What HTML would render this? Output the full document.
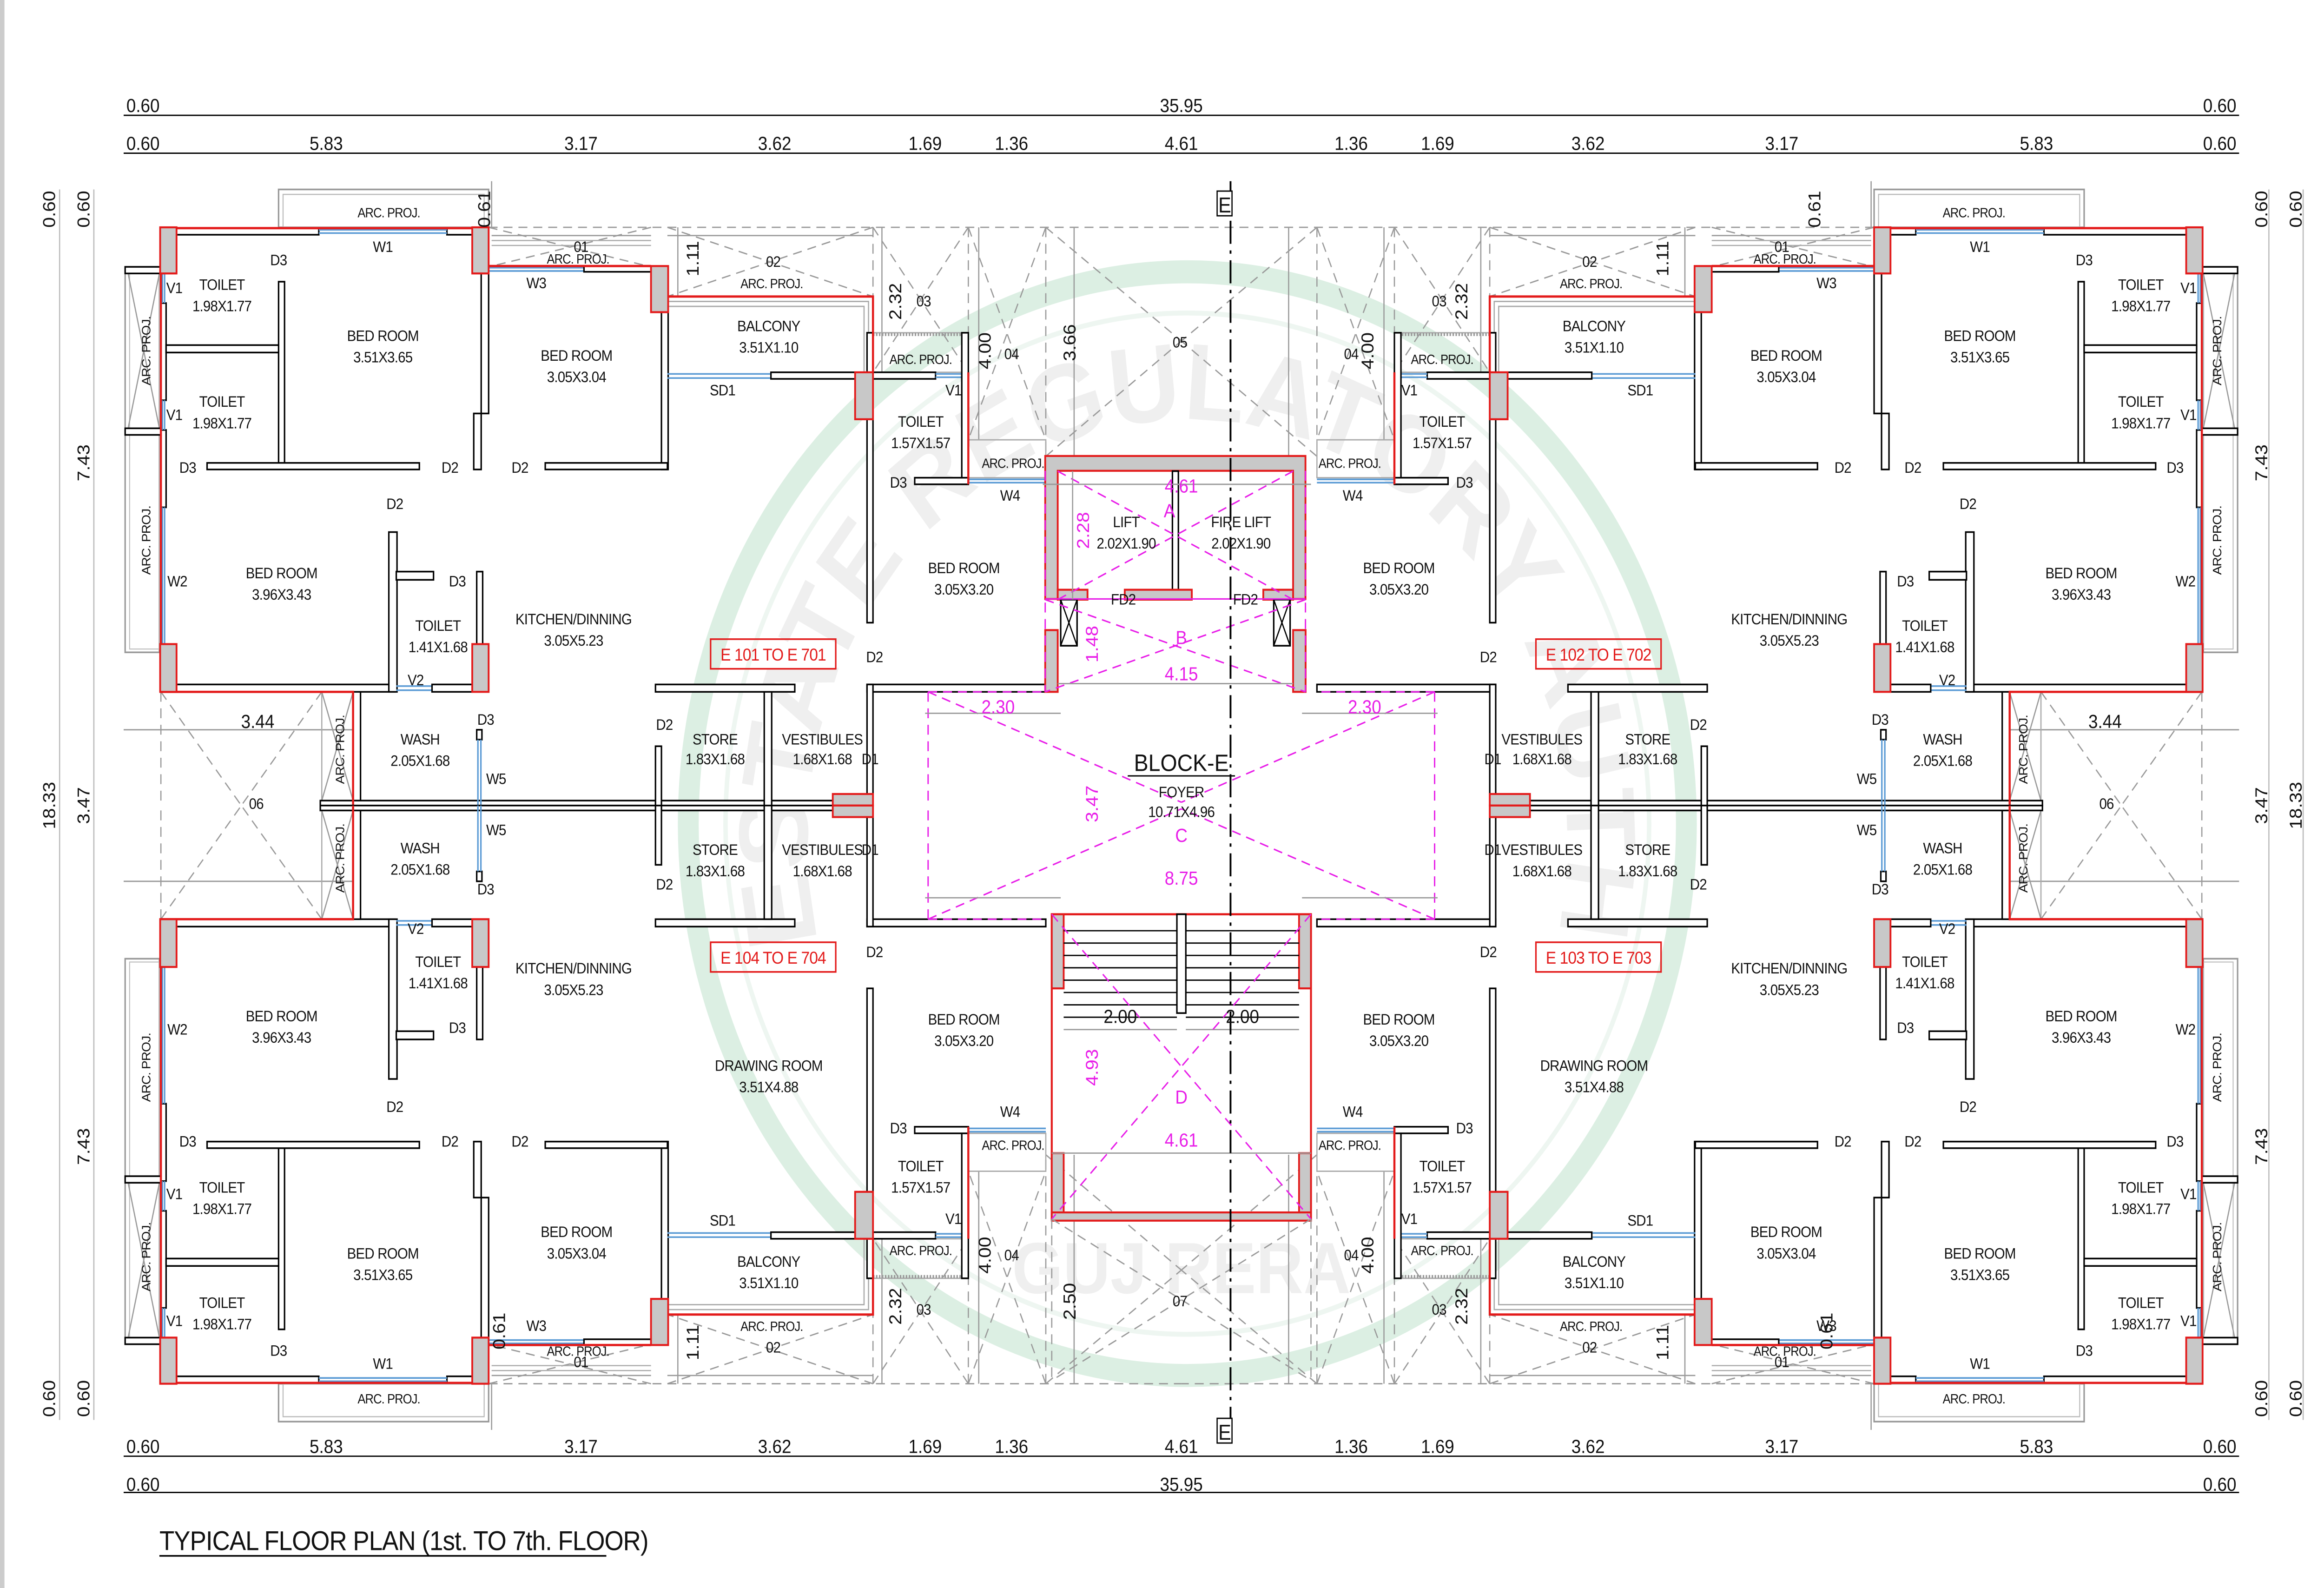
<!DOCTYPE html>
<html><head><meta charset="utf-8"><style>
html,body{margin:0;padding:0;background:#fff;overflow:hidden;width:100%;height:100%;}
svg{display:block;position:fixed;left:0;top:0;width:100vw;height:100vh;}
text{font-family:"Liberation Sans Narrow","Liberation Sans",sans-serif;text-anchor:middle;fill:#111;font-size:9.2px;letter-spacing:-0.25px;}
.d{font-size:11.5px;letter-spacing:0;}
.s{font-size:8px;letter-spacing:-0.3px;}
.m{fill:#e81ee8;font-size:11.5px;letter-spacing:0;}
.r{fill:#e31b1b;font-size:10.5px;letter-spacing:-0.3px;}
.w{fill:#fff;stroke:#000;stroke-width:1;}
.c{fill:#c8c8c8;stroke:#e31b1b;stroke-width:1.2;}
.rl{stroke:#e31b1b;stroke-width:1.4;fill:none;}
.bl{stroke:#5b9bd5;stroke-width:1;fill:none;}
.g{stroke:#9a9a9a;stroke-width:0.8;fill:none;}
.gd{stroke:#9a9a9a;stroke-width:0.8;fill:none;stroke-dasharray:6 4;}
.md{stroke:#e81ee8;stroke-width:0.9;fill:none;stroke-dasharray:6 4;}
.k{stroke:#000;stroke-width:0.8;fill:none;}
</style></head><body>
<svg viewBox="0 0 1560 964" preserveAspectRatio="none" xmlns="http://www.w3.org/2000/svg">
<rect x="0" y="0" width="1560" height="964" fill="#fff"/>
<rect x="0" y="0" width="3" height="964" fill="#ccc"/>

<!-- watermark -->
<circle cx="797" cy="500" r="335" fill="none" stroke="#dcefe3" stroke-width="14"/>
<circle cx="797" cy="500" r="310" fill="none" stroke="#eef6f1" stroke-width="3"/>
<defs><path id="wm" d="M 547 560 A 255 255 0 1 1 1047 560"/></defs>
<text style="font-size:66px;fill:#efefef;font-weight:bold;font-family:'Liberation Sans',sans-serif;letter-spacing:0"><textPath href="#wm" startOffset="50%">REAL ESTATE REGULATORY AUTHORITY</textPath></text>
<text x="793" y="785" style="font-size:44px;fill:#efefef;font-weight:bold;font-family:'Liberation Sans',sans-serif;letter-spacing:0">GUJ RERA</text>

<!-- dimension lines -->
<g class="k">
<line x1="83" y1="70" x2="1503" y2="70"/>
<line x1="83" y1="93" x2="1503" y2="93"/>
<line x1="83" y1="884" x2="1503" y2="884"/>
<line x1="83" y1="906" x2="1503" y2="906"/>
<line x1="40" y1="115" x2="40" y2="862" stroke="#bbb"/>
<line x1="63" y1="115" x2="63" y2="862" stroke="#bbb"/>
<line x1="1523" y1="115" x2="1523" y2="862" stroke="#bbb"/>
<line x1="1546" y1="115" x2="1546" y2="862" stroke="#bbb"/>
</g>
<text class="d" x="96" y="68">0.60</text><text class="d" x="793" y="68">35.95</text><text class="d" x="1490" y="68">0.60</text>
<text class="d" x="96" y="91">0.60</text><text class="d" x="219" y="91">5.83</text><text class="d" x="390" y="91">3.17</text><text class="d" x="520" y="91">3.62</text><text class="d" x="621" y="91">1.69</text><text class="d" x="679" y="91">1.36</text><text class="d" x="793" y="91">4.61</text><text class="d" x="907" y="91">1.36</text><text class="d" x="965" y="91">1.69</text><text class="d" x="1066" y="91">3.62</text><text class="d" x="1196" y="91">3.17</text><text class="d" x="1367" y="91">5.83</text><text class="d" x="1490" y="91">0.60</text>
<text class="d" x="96" y="882">0.60</text><text class="d" x="219" y="882">5.83</text><text class="d" x="390" y="882">3.17</text><text class="d" x="520" y="882">3.62</text><text class="d" x="621" y="882">1.69</text><text class="d" x="679" y="882">1.36</text><text class="d" x="793" y="882">4.61</text><text class="d" x="907" y="882">1.36</text><text class="d" x="965" y="882">1.69</text><text class="d" x="1066" y="882">3.62</text><text class="d" x="1196" y="882">3.17</text><text class="d" x="1367" y="882">5.83</text><text class="d" x="1490" y="882">0.60</text>
<text class="d" x="96" y="905">0.60</text><text class="d" x="793" y="905">35.95</text><text class="d" x="1490" y="905">0.60</text>
<!-- vertical dims -->
<text class="d" transform="rotate(-90 37 127)" x="37" y="127">0.60</text>
<text class="d" transform="rotate(-90 37 489)" x="37" y="489">18.33</text>
<text class="d" transform="rotate(-90 37 849)" x="37" y="849">0.60</text>
<text class="d" transform="rotate(-90 60 127)" x="60" y="127">0.60</text>
<text class="d" transform="rotate(-90 60 281)" x="60" y="281">7.43</text>
<text class="d" transform="rotate(-90 60 489)" x="60" y="489">3.47</text>
<text class="d" transform="rotate(-90 60 696)" x="60" y="696">7.43</text>
<text class="d" transform="rotate(-90 60 849)" x="60" y="849">0.60</text>
<text class="d" transform="rotate(-90 1522 127)" x="1522" y="127">0.60</text>
<text class="d" transform="rotate(-90 1522 281)" x="1522" y="281">7.43</text>
<text class="d" transform="rotate(-90 1522 489)" x="1522" y="489">3.47</text>
<text class="d" transform="rotate(-90 1522 696)" x="1522" y="696">7.43</text>
<text class="d" transform="rotate(-90 1522 849)" x="1522" y="849">0.60</text>
<text class="d" transform="rotate(-90 1545 127)" x="1545" y="127">0.60</text>
<text class="d" transform="rotate(-90 1545 489)" x="1545" y="489">18.33</text>
<text class="d" transform="rotate(-90 1545 849)" x="1545" y="849">0.60</text>

<!-- QUADRANT -->
<defs>
<g id="q">
 <line class="gd" x1="328" y1="138" x2="793" y2="138"/>
 <line class="gd" x1="586" y1="138" x2="586" y2="202"/>
 <line class="gd" x1="650" y1="138" x2="650" y2="267"/>
 <line class="gd" x1="702" y1="138" x2="702" y2="277"/>
 <path class="gd" d="M328 138 L437 162 M437 138 L328 162 M448 138 L586 180 M586 138 L448 180 M586 138 L650 226 M650 138 L586 226 M650 138 L702 267 M702 138 L650 267 M702 138 L793 207 M702 277 L793 207"/>
 <line class="g" x1="657" y1="138" x2="657" y2="267"/>
 <line class="g" x1="721" y1="138" x2="721" y2="277"/>
 <line class="g" x1="592" y1="138" x2="592" y2="226"/>
 <line class="g" x1="455" y1="138" x2="455" y2="180"/>
 <line class="g" x1="330" y1="110" x2="330" y2="138"/>
 <line class="g" x1="330" y1="143" x2="437" y2="143"/>
 <line class="g" x1="448" y1="143" x2="586" y2="143"/>
 <line class="gd" x1="108" y1="420" x2="108" y2="489"/>
 <path class="gd" d="M108 420 L162 489 M216 420 L162 489"/>
 <line class="g" x1="83" y1="443" x2="237" y2="443"/>
 <rect x="187" y="115" width="141" height="23" fill="none" stroke="#999" stroke-width="1"/>
 <rect x="190" y="118" width="135" height="20" fill="none" stroke="#bbb" stroke-width="0.7"/>
 <rect x="84" y="162" width="23" height="234" fill="none" stroke="#999" stroke-width="1"/>
 <rect x="87" y="166" width="20" height="228" fill="none" stroke="#bbb" stroke-width="0.6"/>
 <path class="g" d="M86 166 L107 260 M107 166 L86 260"/>
 <rect class="w" x="84" y="162" width="24" height="4"/>
 <rect class="w" x="84" y="260" width="24" height="4"/>
 <path d="M448 183 H583 V226 M448 186 H580 V226" fill="none" stroke="#aaa" stroke-width="0.8"/>
 <path d="M330 146 H437 M330 149 H437" fill="none" stroke="#aaa" stroke-width="0.7"/>
 <rect x="586" y="202" width="60" height="24" fill="none" stroke="#aaa" stroke-width="0.8"/>
 <line x1="586" y1="203" x2="646" y2="203" stroke="#999" stroke-width="2" stroke-dasharray="1 1"/>
 <rect x="650" y="267" width="52" height="23" fill="none" stroke="#aaa" stroke-width="0.8"/>
 <rect x="216" y="420" width="21" height="66" fill="none" stroke="#aaa" stroke-width="0.8"/>
 <path class="g" d="M216 420 L237 486 M237 420 L216 486"/>
 <rect class="w" x="108" y="138.5" width="106" height="4"/>
 <rect class="w" x="300" y="138.5" width="18" height="4"/>
 <path class="bl" d="M214 139.5 H300 M214 141.5 H300"/>
 <rect class="w" x="108" y="184" width="3.5" height="59"/>
 <rect class="w" x="108" y="261" width="3.5" height="47"/>
 <path class="bl" d="M109 166 V184 M110.5 166 V184 M109 243 V261 M110.5 243 V261 M109 308 V391 M110.5 308 V391"/>
 <rect class="w" x="187" y="171" width="4" height="112"/>
 <rect class="w" x="111.5" y="209.5" width="75.5" height="4.5"/>
 <rect class="w" x="139" y="281" width="142.5" height="4"/>
 <rect class="w" x="323" y="166" width="5" height="85"/>
 <rect class="w" x="318" y="251" width="5" height="34"/>
 <path class="bl" d="M328 162.5 H392 M328 164.5 H392"/>
 <rect class="w" x="392" y="161.5" width="45" height="3.5"/>
 <rect class="w" x="444" y="189.5" width="4.5" height="95.5"/>
 <rect class="w" x="366" y="281" width="82" height="4"/>
 <path class="bl" d="M448 227 H517 M448 229.5 H517"/>
 <rect class="w" x="517.5" y="226" width="57" height="4"/>
 <rect class="w" x="582" y="202" width="4" height="176"/>
 <rect class="w" x="586" y="226" width="42" height="4"/>
 <path class="bl" d="M628 227 H645.6 M628 229 H645.6"/>
 <rect class="w" x="645.6" y="202" width="4.4" height="92"/>
 <rect class="w" x="614" y="290" width="36" height="4"/>
 <path class="bl" d="M650 291 H702 M650 293 H702"/>
 <rect class="w" x="111" y="415.5" width="154" height="4.5"/>
 <rect class="w" x="261" y="323" width="5.5" height="97"/>
 <rect class="w" x="266" y="347" width="25" height="5"/>
 <rect class="w" x="320" y="347" width="4" height="44"/>
 <path class="bl" d="M266 416.5 H290 M266 419 H290"/>
 <rect class="w" x="290" y="415.5" width="27" height="4.5"/>
 <rect class="w" x="237" y="420" width="5" height="69"/>
 <rect class="w" x="215" y="486" width="344" height="3"/>
 <rect class="w" x="320" y="443" width="3.5" height="6"/>
 <path class="bl" d="M320.8 449 V489 M322.8 449 V489"/>
 <rect class="w" x="440" y="415.5" width="93.5" height="4.5"/>
 <rect class="w" x="513" y="420" width="5" height="69"/>
 <rect class="w" x="440" y="453" width="4" height="36"/>
 <rect class="w" x="582" y="415.5" width="120" height="4.5"/>
 <rect class="w" x="582" y="415.5" width="4" height="73.5"/>
 <path class="rl" d="M108 138.5 H328 M108 138 V420 H237 V489 M328 161.5 H437 M448 180 H586 V226 M650 226 V294"/>
 <rect class="c" x="107.5" y="138" width="11" height="28"/>
 <rect class="c" x="317" y="138" width="11" height="28"/>
 <rect class="c" x="437" y="161.5" width="11.5" height="28"/>
 <rect class="c" x="574" y="226" width="12" height="28.5"/>
 <rect class="c" x="107.5" y="391" width="11" height="29"/>
 <rect class="c" x="317" y="391" width="11" height="29"/>
 <rect class="c" x="559" y="482" width="27" height="7"/>
 <line class="md" x1="623" y1="420" x2="623" y2="489"/>
 <line class="md" x1="623" y1="420" x2="702" y2="420"/>
 <path class="md" d="M623 420 L793 487"/>
 <line class="g" x1="621" y1="433" x2="712" y2="433"/>
</g>
</defs>
<use href="#q"/>
<use href="#q" transform="matrix(-1,0,0,1,1586,0)"/>
<use href="#q" transform="matrix(1,0,0,-1,0,978)"/>
<use href="#q" transform="matrix(-1,0,0,-1,1586,978)"/>

<!-- lift core -->
<path d="M701.6 276.8 H876.3 V363.6 H868 V285.8 H710 V363.6 H701.6 Z" fill="#c8c8c8" stroke="#e31b1b" stroke-width="1.2"/>
<rect class="w" x="787" y="286" width="4" height="72"/>
<rect class="c" x="710" y="358" width="20" height="6"/>
<rect class="c" x="755" y="358" width="45" height="6"/>
<rect class="c" x="848" y="358" width="20" height="6"/>
<rect class="c" x="701.6" y="382.5" width="8.4" height="37.5"/>
<rect class="c" x="868" y="382.5" width="8.4" height="37.5"/>
<rect class="w" x="712" y="364" width="11" height="28"/>
<rect class="w" x="855" y="364" width="11" height="28"/>
<path class="k" d="M712 364 L723 392 M723 364 L712 392 M855 364 L866 392 M866 364 L855 392"/>
<line x1="701.6" y1="363.6" x2="876.3" y2="363.6" stroke="#e81ee8" stroke-width="0.9"/>
<path class="md" d="M701.6 285.8 V420 M876.3 285.8 V420 M710 286 L868 364 M868 286 L710 364 M701.6 364 L876.3 420 M876.3 364 L701.6 420"/>
<line class="g" x1="700" y1="294" x2="880" y2="294"/>
<line class="g" x1="710" y1="415" x2="868" y2="415"/>
<line class="g" x1="720" y1="286" x2="720" y2="364"/>

<!-- stair -->
<rect x="706" y="555" width="174" height="185" fill="none" stroke="#e31b1b" stroke-width="1.3"/>
<rect class="c" x="706" y="555" width="8" height="45"/>
<rect class="c" x="872" y="555" width="8" height="45"/>
<rect class="c" x="706" y="700" width="8" height="40"/>
<rect class="c" x="872" y="700" width="8" height="40"/>
<rect class="c" x="706" y="736" width="174" height="5"/>
<rect class="w" x="790" y="555" width="6" height="60"/>
<g class="k" stroke-width="0.7">
<path d="M714 565 H790 M714 572.5 H790 M714 580 H790 M714 587.5 H790 M714 595 H790 M714 602.5 H790 M714 610 H790 M714 617.5 H790 M796 565 H872 M796 572.5 H872 M796 580 H872 M796 587.5 H872 M796 595 H872 M796 602.5 H872 M796 610 H872 M796 617.5 H872"/>
</g>
<line class="g" x1="714" y1="625" x2="790" y2="625"/>
<line class="g" x1="796" y1="625" x2="872" y2="625"/>
<path class="md" d="M706 555 L880 740 M880 555 L706 740"/>
<line class="g" x1="706" y1="700" x2="880" y2="700"/>
<line class="gd" x1="706" y1="740" x2="706" y2="838"/>
<line class="gd" x1="880" y1="740" x2="880" y2="838"/>
<path class="gd" d="M706 740 L880 838 M880 740 L706 838"/>

<!-- section line -->
<line x1="826" y1="110" x2="826" y2="872" stroke="#000" stroke-width="1.2" stroke-dasharray="14 4 2 4"/>
<rect x="817" y="116" width="10" height="15" fill="#fff" stroke="#000" stroke-width="0.8"/>
<text x="822" y="129" style="font-size:13px">E</text>
<rect x="817" y="861" width="10" height="15" fill="#fff" stroke="#000" stroke-width="0.8"/>
<text x="822" y="874" style="font-size:13px">E</text>

<!-- LEFT TOP labels -->
<text class="s" x="261" y="132">ARC. PROJ.</text>
<text x="257" y="153">W1</text><text x="187" y="161">D3</text>
<text x="149" y="176">TOILET</text><text x="149" y="189">1.98X1.77</text><text x="117" y="178">V1</text>
<text x="257" y="207">BED ROOM</text><text x="257" y="220">3.51X3.65</text>
<text x="149" y="247">TOILET</text><text x="149" y="260">1.98X1.77</text><text x="117" y="255">V1</text>
<text x="126" y="287">D3</text><text x="302" y="287">D2</text><text x="349" y="287">D2</text>
<text x="390" y="153">01</text><text class="s" x="388" y="160">ARC. PROJ.</text>
<text class="d" transform="rotate(-90 325 127)" x="325" y="131">0.61</text>
<text x="360" y="175">W3</text>
<text class="d" transform="rotate(-90 465 157)" x="465" y="161">1.11</text>
<text x="519" y="162">02</text><text class="s" x="518" y="175">ARC. PROJ.</text>
<text x="387" y="219">BED ROOM</text><text x="387" y="232">3.05X3.04</text>
<text x="516" y="201">BALCONY</text><text x="516" y="214">3.51X1.10</text>
<text x="485" y="240">SD1</text>
<text class="d" transform="rotate(-90 601 183)" x="601" y="187">2.32</text><text x="620" y="186">03</text>
<text class="s" x="618" y="221">ARC. PROJ.</text><text x="640" y="240">V1</text>
<text x="618" y="259">TOILET</text><text x="618" y="272">1.57X1.57</text><text x="603" y="296">D3</text>
<text class="d" transform="rotate(-90 661 213)" x="661" y="217">4.00</text><text x="679" y="218">04</text>
<text class="s" x="680" y="284">ARC. PROJ.</text><text x="678" y="304">W4</text>
<text class="d" transform="rotate(-90 718 208)" x="718" y="212">3.66</text><text x="792" y="211">05</text>
<text x="265" y="309">D2</text>
<text x="189" y="351">BED ROOM</text><text x="189" y="364">3.96X3.43</text><text x="119" y="356">W2</text>
<text x="307" y="356">D3</text>
<text x="294" y="383">TOILET</text><text x="294" y="396">1.41X1.68</text><text x="279" y="416">V2</text>
<text x="385" y="379">KITCHEN/DINNING</text><text x="385" y="392">3.05X5.23</text>
<text x="647" y="348">BED ROOM</text><text x="647" y="361">3.05X3.20</text>
<text x="756" y="320">LIFT</text><text x="756" y="333">2.02X1.90</text>
<text x="833" y="320">FIRE LIFT</text><text x="833" y="333">2.02X1.90</text>
<text class="m" x="793" y="299">4.61</text><text class="m" x="785" y="314">A</text>
<text class="m" transform="rotate(-90 727 322)" x="727" y="326">2.28</text>
<text x="754" y="367">FD2</text><text x="836" y="367">FD2</text>
<text class="m" x="793" y="391">B</text>
<text class="m" transform="rotate(-90 733 391)" x="733" y="395">1.48</text>
<text class="m" x="793" y="413">4.15</text>
<rect x="477" y="388" width="84" height="18" fill="none" stroke="#e31b1b" stroke-width="1"/>
<text class="r" x="519" y="401">E 101 TO E 701</text>
<text x="587" y="402">D2</text>
<text class="d" x="173" y="442">3.44</text><text x="172" y="491">06</text>
<text class="s" transform="rotate(-90 228 455)" x="228" y="458">ARC. PROJ.</text>
<text x="282" y="452">WASH</text><text x="282" y="465">2.05X1.68</text>
<text x="326" y="440">D3</text><text x="333" y="476">W5</text>
<text x="446" y="443">D2</text>
<text x="480" y="452">STORE</text><text x="480" y="464">1.83X1.68</text>
<text x="552" y="452">VESTIBULES</text><text x="552" y="464">1.68X1.68</text><text x="584" y="464">D1</text>
<text class="m" x="670" y="433">2.30</text><text class="m" x="916" y="433">2.30</text>
<text x="793" y="468" style="font-size:14.5px;letter-spacing:0">BLOCK-E</text>
<line x1="757" y1="471" x2="829" y2="471" stroke="#000" stroke-width="0.8"/>
<text x="793" y="484">FOYER</text><text x="793" y="496">10.71X4.96</text>
<text class="m" transform="rotate(-90 733 488)" x="733" y="492">3.47</text>
<text class="m" x="793" y="511">C</text><text class="m" x="793" y="537">8.75</text>

<!-- LEFT BOTTOM labels -->
<text class="s" transform="rotate(-90 228 521)" x="228" y="524">ARC. PROJ.</text>
<text x="282" y="518">WASH</text><text x="282" y="531">2.05X1.68</text>
<text x="333" y="507">W5</text><text x="326" y="543">D3</text><text x="446" y="540">D2</text>
<text x="480" y="519">STORE</text><text x="480" y="532">1.83X1.68</text>
<text x="552" y="519">VESTIBULES</text><text x="552" y="532">1.68X1.68</text><text x="584" y="519">D1</text>
<rect x="477" y="572" width="84" height="18" fill="none" stroke="#e31b1b" stroke-width="1"/>
<text class="r" x="519" y="585">E 104 TO E 704</text>
<text x="587" y="581">D2</text>
<text x="279" y="567">V2</text>
<text x="294" y="587">TOILET</text><text x="294" y="600">1.41X1.68</text><text x="307" y="627">D3</text>
<text x="385" y="591">KITCHEN/DINNING</text><text x="385" y="604">3.05X5.23</text>
<text x="189" y="620">BED ROOM</text><text x="189" y="633">3.96X3.43</text><text x="119" y="628">W2</text>
<text x="265" y="675">D2</text>
<text x="516" y="650">DRAWING ROOM</text><text x="516" y="663">3.51X4.88</text>
<text x="647" y="622">BED ROOM</text><text x="647" y="635">3.05X3.20</text>
<text class="d" x="752" y="621">2.00</text><text class="d" x="834" y="621">2.00</text>
<text class="m" transform="rotate(-90 733 648)" x="733" y="652">4.93</text>
<text class="m" x="793" y="670">D</text><text class="m" x="793" y="696">4.61</text>
<text x="678" y="678">W4</text><text class="s" x="680" y="698">ARC. PROJ.</text>
<text x="603" y="688">D3</text>
<text x="618" y="711">TOILET</text><text x="618" y="724">1.57X1.57</text><text x="640" y="743">V1</text>
<text class="s" x="618" y="762">ARC. PROJ.</text>
<text class="d" transform="rotate(-90 661 762)" x="661" y="766">4.00</text><text x="679" y="765">04</text>
<text class="d" transform="rotate(-90 601 793)" x="601" y="797">2.32</text><text x="620" y="798">03</text>
<text class="d" transform="rotate(-90 718 790)" x="718" y="794">2.50</text><text x="792" y="793">07</text>
<text x="126" y="696">D3</text><text x="302" y="696">D2</text><text x="349" y="696">D2</text>
<text x="117" y="728">V1</text>
<text x="149" y="724">TOILET</text><text x="149" y="737">1.98X1.77</text>
<text x="257" y="764">BED ROOM</text><text x="257" y="777">3.51X3.65</text>
<text x="387" y="751">BED ROOM</text><text x="387" y="764">3.05X3.04</text>
<text x="485" y="744">SD1</text>
<text x="516" y="769">BALCONY</text><text x="516" y="782">3.51X1.10</text>
<text x="117" y="805">V1</text>
<text x="149" y="794">TOILET</text><text x="149" y="807">1.98X1.77</text>
<text x="187" y="823">D3</text><text x="257" y="831">W1</text>
<text class="s" x="261" y="852">ARC. PROJ.</text>
<text x="360" y="808">W3</text><text class="s" x="388" y="823">ARC. PROJ.</text><text x="390" y="830">01</text>
<text class="d" transform="rotate(-90 335 808)" x="335" y="812">0.61</text>
<text class="d" transform="rotate(-90 465 815)" x="465" y="819">1.11</text>
<text class="s" x="518" y="808">ARC. PROJ.</text><text x="519" y="821">02</text>
<text class="s" transform="rotate(-90 98 213)" x="98" y="216">ARC. PROJ.</text>
<text class="s" transform="rotate(-90 98 328)" x="98" y="331">ARC. PROJ.</text>
<text class="s" transform="rotate(-90 98 648)" x="98" y="651">ARC. PROJ.</text>
<text class="s" transform="rotate(-90 98 763)" x="98" y="766">ARC. PROJ.</text>

<!-- RIGHT TOP labels -->
<text class="s" x="1325" y="132">ARC. PROJ.</text>
<text x="1329" y="153">W1</text><text x="1399" y="161">D3</text>
<text x="1437" y="176">TOILET</text><text x="1437" y="189">1.98X1.77</text><text x="1469" y="178">V1</text>
<text x="1329" y="207">BED ROOM</text><text x="1329" y="220">3.51X3.65</text>
<text x="1437" y="247">TOILET</text><text x="1437" y="260">1.98X1.77</text><text x="1469" y="255">V1</text>
<text x="1460" y="287">D3</text><text x="1284" y="287">D2</text><text x="1237" y="287">D2</text>
<text x="1196" y="153">01</text><text class="s" x="1198" y="160">ARC. PROJ.</text>
<text class="d" transform="rotate(-90 1218 127)" x="1218" y="131">0.61</text>
<text x="1226" y="175">W3</text>
<text class="d" transform="rotate(-90 1116 157)" x="1116" y="161">1.11</text>
<text x="1067" y="162">02</text><text class="s" x="1068" y="175">ARC. PROJ.</text>
<text x="1199" y="219">BED ROOM</text><text x="1199" y="232">3.05X3.04</text>
<text x="1070" y="201">BALCONY</text><text x="1070" y="214">3.51X1.10</text>
<text x="1101" y="240">SD1</text>
<text class="d" transform="rotate(-90 981 183)" x="981" y="187">2.32</text><text x="966" y="186">03</text>
<text class="s" x="968" y="221">ARC. PROJ.</text><text x="946" y="240">V1</text>
<text x="968" y="259">TOILET</text><text x="968" y="272">1.57X1.57</text><text x="983" y="296">D3</text>
<text class="d" transform="rotate(-90 918 213)" x="918" y="217">4.00</text><text x="907" y="218">04</text>
<text class="s" x="906" y="284">ARC. PROJ.</text><text x="908" y="304">W4</text>
<text x="1321" y="309">D2</text>
<text x="1397" y="351">BED ROOM</text><text x="1397" y="364">3.96X3.43</text><text x="1467" y="356">W2</text>
<text x="1279" y="356">D3</text>
<text x="1292" y="383">TOILET</text><text x="1292" y="396">1.41X1.68</text><text x="1307" y="416">V2</text>
<text x="1201" y="379">KITCHEN/DINNING</text><text x="1201" y="392">3.05X5.23</text>
<text x="939" y="348">BED ROOM</text><text x="939" y="361">3.05X3.20</text>
<rect x="1031" y="388" width="84" height="18" fill="none" stroke="#e31b1b" stroke-width="1"/>
<text class="r" x="1073" y="401">E 102 TO E 702</text>
<text x="999" y="402">D2</text>
<text class="d" x="1413" y="442">3.44</text><text x="1414" y="491">06</text>
<text class="s" transform="rotate(-90 1358 455)" x="1358" y="458">ARC. PROJ.</text>
<text x="1304" y="452">WASH</text><text x="1304" y="465">2.05X1.68</text>
<text x="1262" y="440">D3</text><text x="1253" y="476">W5</text>
<text x="1140" y="443">D2</text>
<text x="1106" y="452">STORE</text><text x="1106" y="464">1.83X1.68</text>
<text x="1035" y="452">VESTIBULES</text><text x="1035" y="464">1.68X1.68</text><text x="1002" y="464">D1</text>

<!-- RIGHT BOTTOM labels -->
<text class="s" transform="rotate(-90 1358 521)" x="1358" y="524">ARC. PROJ.</text>
<text x="1304" y="518">WASH</text><text x="1304" y="531">2.05X1.68</text>
<text x="1253" y="507">W5</text><text x="1262" y="543">D3</text><text x="1140" y="540">D2</text>
<text x="1106" y="519">STORE</text><text x="1106" y="532">1.83X1.68</text>
<text x="1035" y="519">VESTIBULES</text><text x="1035" y="532">1.68X1.68</text><text x="1002" y="519">D1</text>
<rect x="1031" y="572" width="84" height="18" fill="none" stroke="#e31b1b" stroke-width="1"/>
<text class="r" x="1073" y="585">E 103 TO E 703</text>
<text x="999" y="581">D2</text>
<text x="1307" y="567">V2</text>
<text x="1292" y="587">TOILET</text><text x="1292" y="600">1.41X1.68</text><text x="1279" y="627">D3</text>
<text x="1201" y="591">KITCHEN/DINNING</text><text x="1201" y="604">3.05X5.23</text>
<text x="1397" y="620">BED ROOM</text><text x="1397" y="633">3.96X3.43</text><text x="1467" y="628">W2</text>
<text x="1321" y="675">D2</text>
<text x="1070" y="650">DRAWING ROOM</text><text x="1070" y="663">3.51X4.88</text>
<text x="939" y="622">BED ROOM</text><text x="939" y="635">3.05X3.20</text>
<text x="908" y="678">W4</text><text class="s" x="906" y="698">ARC. PROJ.</text>
<text x="983" y="688">D3</text>
<text x="968" y="711">TOILET</text><text x="968" y="724">1.57X1.57</text><text x="946" y="743">V1</text>
<text class="s" x="968" y="762">ARC. PROJ.</text>
<text class="d" transform="rotate(-90 918 762)" x="918" y="766">4.00</text><text x="907" y="765">04</text>
<text class="d" transform="rotate(-90 981 793)" x="981" y="797">2.32</text><text x="966" y="798">03</text>
<text x="1460" y="696">D3</text><text x="1284" y="696">D2</text><text x="1237" y="696">D2</text>
<text x="1469" y="728">V1</text>
<text x="1437" y="724">TOILET</text><text x="1437" y="737">1.98X1.77</text>
<text x="1329" y="764">BED ROOM</text><text x="1329" y="777">3.51X3.65</text>
<text x="1199" y="751">BED ROOM</text><text x="1199" y="764">3.05X3.04</text>
<text x="1101" y="744">SD1</text>
<text x="1070" y="769">BALCONY</text><text x="1070" y="782">3.51X1.10</text>
<text x="1469" y="805">V1</text>
<text x="1437" y="794">TOILET</text><text x="1437" y="807">1.98X1.77</text>
<text x="1399" y="823">D3</text><text x="1329" y="831">W1</text>
<text class="s" x="1325" y="852">ARC. PROJ.</text>
<text x="1226" y="808">W3</text><text class="s" x="1198" y="823">ARC. PROJ.</text><text x="1196" y="830">01</text>
<text class="d" transform="rotate(-90 1226 808)" x="1226" y="812">0.61</text>
<text class="d" transform="rotate(-90 1116 815)" x="1116" y="819">1.11</text>
<text class="s" x="1068" y="808">ARC. PROJ.</text><text x="1067" y="821">02</text>
<text class="s" transform="rotate(-90 1488 213)" x="1488" y="216">ARC. PROJ.</text>
<text class="s" transform="rotate(-90 1488 328)" x="1488" y="331">ARC. PROJ.</text>
<text class="s" transform="rotate(-90 1488 648)" x="1488" y="651">ARC. PROJ.</text>
<text class="s" transform="rotate(-90 1488 763)" x="1488" y="766">ARC. PROJ.</text>

<!-- title -->
<text x="107" y="941" style="text-anchor:start;font-size:16.5px;letter-spacing:-0.3px">TYPICAL FLOOR PLAN (1st. TO 7th. FLOOR)</text>
<line x1="107" y1="944.5" x2="407" y2="944.5" stroke="#000" stroke-width="1"/>
</svg>
</body></html>
